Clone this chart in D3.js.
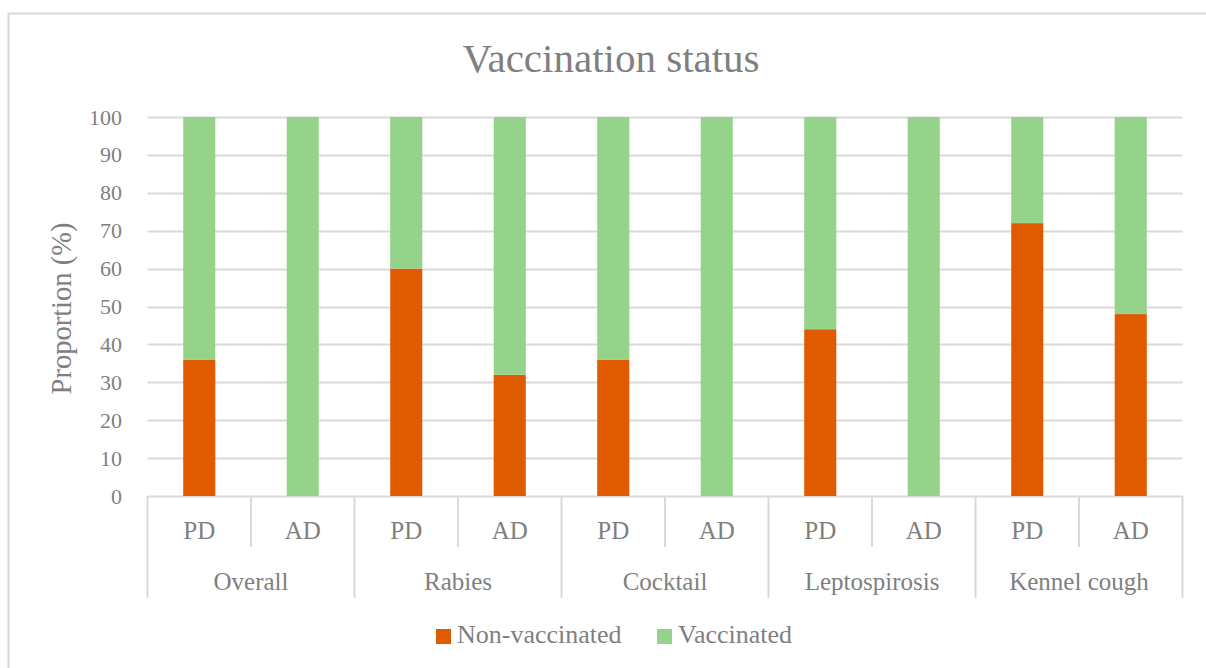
<!DOCTYPE html>
<html>
<head>
<meta charset="utf-8">
<script src="https://cdn.jsdelivr.net/npm/d3@7"></script>
<style>
  body { margin: 0; background: #fff; }
  text { font-family: "Liberation Serif", "DejaVu Serif", serif; fill: #7f7f7f; }
</style>
</head>
<body>
<svg id="chart" width="1206" height="668"></svg>
<script>
// values
var diseases = ["Overall", "Rabies", "Cocktail", "Leptospirosis", "Kennel cough"];
var dogGroups = ["PD", "AD"];
var nonVaccinated = [36, 0, 60, 32, 36, 0, 44, 0, 72, 48];
var vaccinated = [64, 100, 40, 68, 64, 100, 56, 100, 28, 52];
var seriesNames = ["Non-vaccinated", "Vaccinated"];
var yTicks = [0, 10, 20, 30, 40, 50, 60, 70, 80, 90, 100];

var seriesColors = d3.scaleOrdinal()
    .domain(seriesNames)
    .range(["#e05a00", "#95d28a"]);

var plot = {left: 147.5, right: 1182.5, top: 117, bottom: 496};
var gridColor = "#d9d9d9";

var svg = d3.select("#chart");

// outer frame (right / bottom edges fall outside the window)
svg.append("rect")
    .attr("x", 8.5).attr("y", 13.5)
    .attr("width", 1300).attr("height", 800)
    .attr("fill", "none")
    .attr("stroke", gridColor)
    .attr("stroke-width", 2);

var rows = [];
diseases.forEach(function(dis, i) {
    dogGroups.forEach(function(g, j) {
        var k = i * dogGroups.length + j;
        rows.push({disease: dis, group: g, "Non-vaccinated": nonVaccinated[k], "Vaccinated": vaccinated[k]});
    });
});

var x0 = d3.scaleBand()
    .domain(diseases)
    .range([plot.left, plot.right]);

var x1 = d3.scaleBand()
    .domain(dogGroups)
    .range([0, x0.bandwidth()]);

var barWidth = x1.bandwidth() * 0.31;

var y = d3.scaleLinear()
    .domain([0, 100])
    .range([plot.bottom, plot.top]);

// gridlines
svg.append("g")
    .selectAll("line")
    .data(yTicks)
    .enter().append("line")
    .attr("x1", plot.left).attr("x2", plot.right)
    .attr("y1", function(d) { return Math.round(y(d)) + 0.5; })
    .attr("y2", function(d) { return Math.round(y(d)) + 0.5; })
    .attr("stroke", gridColor)
    .attr("stroke-width", 2);

// y axis labels
var yAxis = d3.axisLeft(y).tickValues(yTicks).tickSize(0).tickPadding(0);
var yG = svg.append("g")
    .attr("transform", "translate(122,0)")
    .call(yAxis);
yG.select(".domain").remove();
yG.selectAll("text")
    .attr("font-size", 22)
    .attr("font-family", null)
    .style("fill", "#7f7f7f");

// stacked bars
var stack = d3.stack().keys(seriesNames);
var layers = stack(rows);

svg.append("g")
    .selectAll("g")
    .data(layers)
    .enter().append("g")
    .attr("fill", function(d) { return seriesColors(d.key); })
    .selectAll("rect")
    .data(function(d) { return d; })
    .enter().append("rect")
    .attr("x", function(d) { return x0(d.data.disease) + x1(d.data.group) + (x1.bandwidth() - barWidth) / 2; })
    .attr("width", barWidth)
    .attr("y", function(d) { return y(d[1]); })
    .attr("height", function(d) { return y(d[0]) - y(d[1]); });

// category axis separators
var sep = svg.append("g").attr("stroke", gridColor).attr("stroke-width", 2);
diseases.concat(["__end"]).forEach(function(dis, i) {
    var xx = i < diseases.length ? x0(dis) : plot.right;
    sep.append("line")
        .attr("x1", xx).attr("x2", xx)
        .attr("y1", plot.bottom).attr("y2", 598);
});
diseases.forEach(function(dis) {
    var xx = x0(dis) + x1("AD");
    sep.append("line")
        .attr("x1", xx).attr("x2", xx)
        .attr("y1", plot.bottom).attr("y2", 547);
});

// PD / AD labels
svg.append("g")
    .selectAll("text")
    .data(rows)
    .enter().append("text")
    .attr("x", function(d) { return x0(d.disease) + x1(d.group) + x1.bandwidth() / 2; })
    .attr("y", 539)
    .attr("text-anchor", "middle")
    .attr("font-size", 25)
    .text(function(d) { return d.group; });

// disease labels
svg.append("g")
    .selectAll("text")
    .data(diseases)
    .enter().append("text")
    .attr("x", function(d) { return x0(d) + x0.bandwidth() / 2; })
    .attr("y", 590)
    .attr("text-anchor", "middle")
    .attr("font-size", 25)
    .text(function(d) { return d; });

// title
svg.append("text")
    .attr("x", 611)
    .attr("y", 72)
    .attr("text-anchor", "middle")
    .attr("font-size", 41)
    .text("Vaccination status");

// y axis title
svg.append("text")
    .attr("transform", "translate(71," + ((plot.top + plot.bottom) / 2 + 2) + ") rotate(-90)")
    .attr("text-anchor", "middle")
    .attr("font-size", 28.5)
    .text("Proportion (%)");

// legend
var legendX = [436, 657];
var legend = svg.append("g")
    .selectAll("g")
    .data(seriesNames)
    .enter().append("g")
    .attr("transform", function(d, i) { return "translate(" + legendX[i] + ",629)"; });

legend.append("rect")
    .attr("width", 15)
    .attr("height", 15)
    .attr("fill", function(d) { return seriesColors(d); });

legend.append("text")
    .attr("x", 21)
    .attr("y", 14)
    .attr("font-size", 26)
    .text(function(d) { return d; });
</script>
</body>
</html>
